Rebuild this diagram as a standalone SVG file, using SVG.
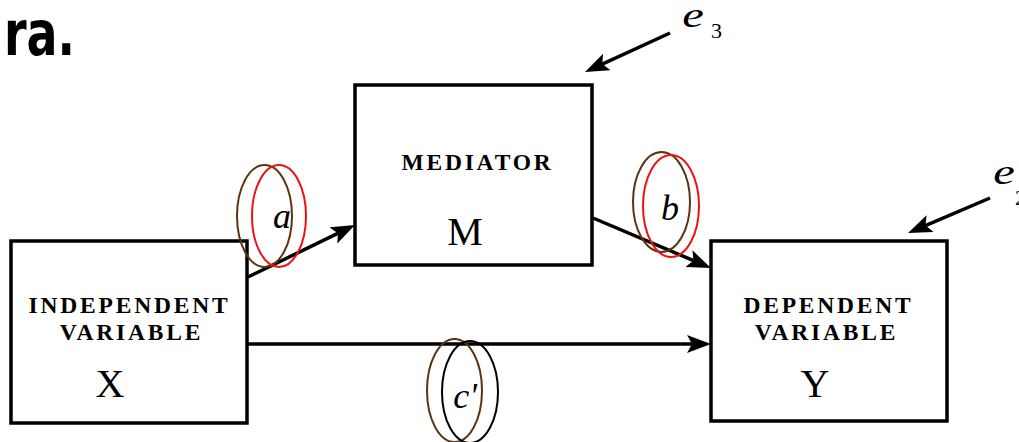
<svg xmlns="http://www.w3.org/2000/svg" width="1019" height="442" viewBox="0 0 1019 442">
<style>
.box{fill:#fff;stroke:#000;stroke-width:3.5}
.cap{font-family:"Liberation Serif",serif;font-weight:bold;font-size:23.5px;letter-spacing:2.8px;text-anchor:middle;fill:#000}
.big{font-family:"Liberation Serif",serif;font-size:40px;text-anchor:middle;fill:#000}
.it{font-family:"Liberation Serif",serif;font-style:italic;font-size:36px;text-anchor:middle;fill:#000}
.sub{font-family:"Liberation Serif",serif;font-size:22px;fill:#000}
.conn{stroke:#000;stroke-width:3.5;fill:none}
.ell{fill:none;stroke-width:2}
</style>
<defs>
<marker id="ah" viewBox="0 0 24 18" refX="14" refY="9" markerWidth="24" markerHeight="18" markerUnits="userSpaceOnUse" orient="auto">
<path d="M0,0 L24,9 L0,18 L5,9 z" fill="#000"/>
</marker>
</defs>
<text x="4" y="55" font-family="DejaVu Sans, sans-serif" font-weight="bold" font-size="62" textLength="71" lengthAdjust="spacingAndGlyphs">ra.</text>
<g id="nodeX">
<rect class="box" x="11" y="241" width="236" height="182"/>
<text class="cap" x="129.5" y="313">INDEPENDENT</text>
<text class="cap" x="131.5" y="340">VARIABLE</text>
<text class="big" x="110" y="397">X</text>
</g>
<g id="nodeM">
<rect class="box" x="355" y="85" width="237" height="180"/>
<text class="cap" x="477.5" y="170">MEDIATOR</text>
<text class="big" x="465" y="245">M</text>
</g>
<g id="nodeY">
<rect class="box" x="711" y="241" width="236" height="180"/>
<text class="cap" x="828.5" y="313">DEPENDENT</text>
<text class="cap" x="826.5" y="340">VARIABLE</text>
<text class="big" x="815" y="397">Y</text>
</g>
<g id="connectors">
<line class="conn" x1="248" y1="277" x2="346" y2="229.4" marker-end="url(#ah)"/>
<line class="conn" x1="593" y1="218" x2="701.8" y2="264.1" marker-end="url(#ah)"/>
<line class="conn" x1="247" y1="344" x2="701" y2="344" marker-end="url(#ah)"/>
<line class="conn" x1="670" y1="33" x2="594.1" y2="67.8" marker-end="url(#ah)"/>
<line class="conn" x1="990" y1="198" x2="917.2" y2="229.1" marker-end="url(#ah)"/>
</g>
<g id="labelA">
<ellipse class="ell" cx="264.5" cy="216" rx="27.5" ry="51" stroke="#5a3510"/>
<ellipse class="ell" cx="279" cy="216" rx="27" ry="51" stroke="#ee1111"/>
<text class="it" x="282" y="228">a</text>
</g>
<g id="labelB">
<ellipse class="ell" cx="661.5" cy="202" rx="28.5" ry="50" stroke="#5a3510"/>
<ellipse class="ell" cx="671" cy="206" rx="28" ry="51" stroke="#ee1111"/>
<text class="it" x="670" y="220">b</text>
</g>
<g id="labelC">
<ellipse class="ell" cx="454.5" cy="390.5" rx="27.5" ry="51.5" stroke="#5a3510"/>
<ellipse class="ell" cx="470" cy="392" rx="28" ry="51" stroke="#000"/>
<text class="it" x="465" y="408">c'</text>
</g>
<g id="e3">
<text class="it" transform="translate(693,27) scale(1.35,1)" font-size="30">e</text>
<text class="sub" x="711" y="38">3</text>
</g>
<g id="e2">
<text class="it" transform="translate(1004,184) scale(1.35,1)" font-size="30">e</text>
<text class="sub" x="1015" y="205">2</text>
</g>
</svg>
